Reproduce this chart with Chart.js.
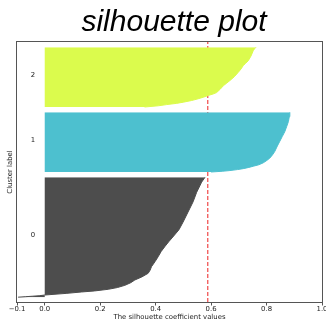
<!DOCTYPE html>
<html><head><meta charset="utf-8">
<script src="https://cdn.jsdelivr.net/npm/chart.js@4/dist/chart.umd.min.js"></script>
<style>html,body{margin:0;padding:0;background:#fff;overflow:hidden}#wrap{width:326px;height:325px}</style>
</head><body><div id="wrap"><canvas id="c" width="326" height="325"></canvas></div>
<script>
// ---- data ----
const chartTitle = 'silhouette plot';
const xAxisTitle = 'The silhouette coefficient values';
const yAxisTitle = 'Cluster label';
const clusterNames = ['0', '1', '2'];
const clusterSizes = [250, 125, 125];
const clusterColors = ['#4d4d4d', '#4dc0cf', '#dbfb4d'];
// sorted silhouette values sampled at ranks within each cluster
const cluster0Ranks  = [0, 1, 2, 3, 4.5, 8, 10.8, 13, 16.4, 20, 24.6, 30, 35.7, 42, 49.6, 56, 63.3, 74, 84, 95, 105, 115, 125, 140, 156, 177, 198, 218, 239, 249];
const cluster0Values = [-0.096, -0.07, -0.045, -0.02, 0.0, 0.08, 0.132, 0.18, 0.229, 0.262, 0.289, 0.31, 0.325, 0.35, 0.373, 0.38, 0.385, 0.398, 0.409, 0.42, 0.433, 0.447, 0.462, 0.484, 0.499, 0.517, 0.535, 0.548, 0.566, 0.578];
const cluster1Ranks  = [0, 1.5, 3, 5, 7, 9.5, 12, 15, 19, 24, 29, 36, 43, 54, 64, 74, 84, 95, 105, 115, 124];
const cluster1Values = [0.60, 0.64, 0.668, 0.695, 0.716, 0.736, 0.752, 0.772, 0.788, 0.801, 0.812, 0.822, 0.830, 0.839, 0.848, 0.857, 0.866, 0.873, 0.879, 0.882, 0.884];
const cluster2Ranks  = [0, 2.5, 5, 7.5, 10, 13.5, 17, 20.5, 24, 27, 30, 37, 44, 50, 55, 63, 72, 79, 86, 91, 96, 106, 117, 121, 124];
const cluster2Values = [0.36, 0.41, 0.44, 0.475, 0.50, 0.53, 0.553, 0.573, 0.59, 0.607, 0.62, 0.633, 0.644, 0.657, 0.668, 0.684, 0.698, 0.708, 0.716, 0.725, 0.734, 0.744, 0.752, 0.757, 0.762];
const averageScore = 0.588;
const xTickValues = [-0.1, 0, 0.2, 0.4, 0.6, 0.8, 1.0];
const xTickLabels = ['\u22120.1', '0.0', '0.2', '0.4', '0.6', '0.8', '1.0'];
const clusterGap = 10;

// ---- build datasets ----
const ranks = [cluster0Ranks, cluster1Ranks, cluster2Ranks];
const values = [cluster0Values, cluster1Values, cluster2Values];
const yLowers = [];
let yl = clusterGap;
clusterSizes.forEach((s) => { yLowers.push(yl); yl += s + clusterGap; });
const yMax = yl;

const datasets = clusterNames.map((name, i) => ({
  label: name,
  data: ranks[i].map((r, j) => ({ x: values[i][j], y: yLowers[i] + r })),
  backgroundColor: clusterColors[i],
  borderColor: clusterColors[i],
  borderWidth: 1,
  pointRadius: 0,
  tension: 0,
  fill: 'origin'
}));
datasets.push({
  label: 'average',
  data: [{ x: averageScore, y: 0 }, { x: averageScore, y: yMax }],
  borderColor: '#f04848',
  borderWidth: 1.2,
  borderDash: [4, 2],
  pointRadius: 0,
  fill: false
});

const smallFont = { family: 'DejaVu Sans', size: 6.9 };

const extras = {
  id: 'extras',
  afterDraw(chart) {
    const { ctx, chartArea: a, scales } = chart;
    ctx.save();
    ctx.strokeStyle = '#555';
    ctx.lineWidth = 1;
    ctx.strokeRect(Math.round(a.left) - 0.5, Math.round(a.top) - 0.5, Math.round(a.right - a.left) + 1, Math.round(a.bottom - a.top) + 1);
    ctx.fillStyle = '#222';
    ctx.font = '6.9px "DejaVu Sans"';
    ctx.textAlign = 'left';
    ctx.textBaseline = 'alphabetic';
    clusterNames.forEach((n, i) => {
      ctx.fillText(n, scales.x.getPixelForValue(-0.05), scales.y.getPixelForValue(yLowers[i] + 0.5 * clusterSizes[i]));
    });
    ctx.fillStyle = '#000';
    ctx.font = 'italic 30px "Liberation Sans"';
    ctx.textAlign = 'center';
    ctx.fillText(chartTitle, 174, 31);
    ctx.restore();
  }
};

new Chart(document.getElementById('c'), {
  type: 'line',
  data: { datasets },
  plugins: [extras],
  options: {
    indexAxis: 'y',
    responsive: false,
    animation: false,
    devicePixelRatio: 1,
    layout: { padding: { top: 42, right: 4, left: 0, bottom: 0 } },
    plugins: { legend: { display: false }, tooltip: { enabled: false }, title: { display: false } },
    scales: {
      x: {
        type: 'linear', position: 'bottom', min: -0.1, max: 1.0,
        afterBuildTicks: (axis) => { axis.ticks = xTickValues.map((v) => ({ value: v })); },
        afterFit: (axis) => { axis.height = 23; axis.paddingLeft = 0; axis.paddingRight = 0; },
        ticks: {
          autoSkip: false, maxRotation: 0, padding: 0, color: '#222',
          font: smallFont,
          callback: (v, i) => xTickLabels[i]
        },
        grid: { drawOnChartArea: false, drawTicks: true, tickLength: 3.5, color: '#555' },
        border: { color: '#555' },
        title: { display: true, text: xAxisTitle, color: '#222', font: smallFont, padding: { top: 0, bottom: 3.2 } }
      },
      y: {
        type: 'linear', position: 'left', min: 0, max: yMax,
        afterFit: (axis) => { axis.width = 17; axis.paddingTop = 0; axis.paddingBottom = 0; },
        ticks: { display: false },
        grid: { display: false },
        border: { display: false },
        title: { display: true, text: yAxisTitle, color: '#222', font: smallFont, padding: { top: 5.9, bottom: 0 } }
      }
    }
  }
});
</script></body></html>
